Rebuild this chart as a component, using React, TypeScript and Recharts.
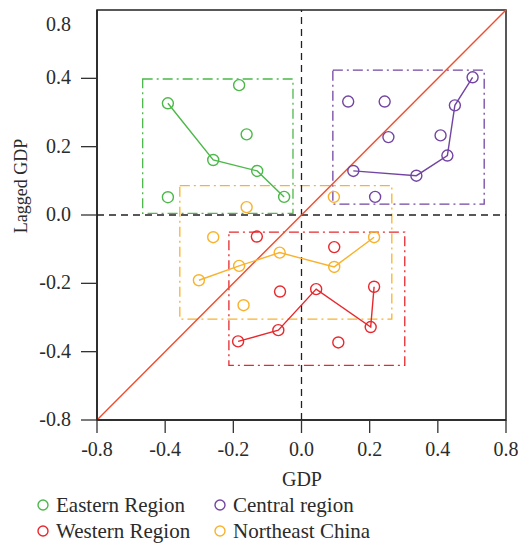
import React from 'react';
import { ScatterChart, Scatter, XAxis, YAxis, ReferenceLine, ReferenceArea, Legend, Label } from 'recharts';

// Axis ticks (internal scale) and their printed labels
const tickValues = [-0.6, -0.4, -0.2, 0, 0.2, 0.4, 0.6];
const tickLabels = ['-0.8', '-0.4', '-0.2', '0.0', '0.2', '0.4', '0.8'];
const xTickLabels = ['-0.8', '-0.4', '-0.2', '0.0', '0.2', '0.4', '0.8'];

// Eastern Region
const eastPath = [
  { x: -0.392, y: 0.327 },
  { x: -0.259, y: 0.161 },
  { x: -0.13, y: 0.129 },
  { x: -0.051, y: 0.053 },
];
const eastOther = [
  { x: -0.183, y: 0.38 },
  { x: -0.161, y: 0.236 },
  { x: -0.392, y: 0.052 },
];
// Central region
const centralPath = [
  { x: 0.152, y: 0.129 },
  { x: 0.337, y: 0.115 },
  { x: 0.428, y: 0.174 },
  { x: 0.45, y: 0.321 },
  { x: 0.502, y: 0.403 },
];
const centralOther = [
  { x: 0.137, y: 0.332 },
  { x: 0.244, y: 0.332 },
  { x: 0.255, y: 0.228 },
  { x: 0.408, y: 0.233 },
  { x: 0.216, y: 0.053 },
];
// Western Region
const westPath = [
  { x: -0.186, y: -0.37 },
  { x: -0.068, y: -0.337 },
  { x: 0.043, y: -0.217 },
  { x: 0.203, y: -0.328 },
  { x: 0.213, y: -0.21 },
];
const westOther = [
  { x: -0.131, y: -0.063 },
  { x: -0.063, y: -0.224 },
  { x: 0.096, y: -0.094 },
  { x: 0.108, y: -0.373 },
];
// Northeast China
const northeastPath = [
  { x: -0.301, y: -0.191 },
  { x: -0.183, y: -0.149 },
  { x: -0.064, y: -0.11 },
  { x: 0.096, y: -0.152 },
  { x: 0.213, y: -0.065 },
];
const northeastOther = [
  { x: -0.259, y: -0.065 },
  { x: -0.17, y: -0.264 },
  { x: -0.161, y: 0.023 },
  { x: 0.095, y: 0.053 },
];

// Region boxes [x1, x2, y1, y2]
const eastBox = [-0.466, -0.025, 0.005, 0.398];
const centralBox = [0.092, 0.536, 0.032, 0.424];
const westBox = [-0.213, 0.303, -0.44, -0.05];
const northeastBox = [-0.357, 0.265, -0.305, 0.086];

const GREEN = '#4cb84a';
const PURPLE = '#7345a3';
const RED = '#e8282d';
const ORANGE = '#f9b22c';
const DIAG = '#f04b2d';
const TEXT = '#2b2b2b';
const FONT = '"Liberation Serif", "Times New Roman", serif';

const legendItems = [
  { name: 'Eastern Region', color: GREEN },
  { name: 'Central region', color: PURPLE },
  { name: 'Western Region', color: RED },
  { name: 'Northeast China', color: ORANGE },
];

const labelFor = (v: number, labels: string[]) => {
  const i = tickValues.findIndex((t) => Math.abs(t - v) < 1e-6);
  return i >= 0 ? labels[i] : String(v);
};

const YTick = (props: any) => {
  const { x, y, payload } = props;
  const isTop = Math.abs(payload.value - 0.6) < 1e-6;
  return (
    <g>
      {!isTop && <line x1={x + 10} x2={x + 26} y1={y} y2={y} stroke="#333" strokeWidth={1.3} />}
      <text x={x} y={y + (isTop ? 15 : 0)} dy={6} textAnchor="end" fill={TEXT} fontSize={20} fontFamily={FONT}>
        {labelFor(payload.value, tickLabels)}
      </text>
    </g>
  );
};

const XTick = (props: any) => {
  const { x, y, payload } = props;
  return (
    <text x={x} y={y} dy={14} textAnchor="middle" fill={TEXT} fontSize={20} fontFamily={FONT}>
      {labelFor(payload.value, xTickLabels)}
    </text>
  );
};

const renderLegend = () => (
  <div style={{ display: 'grid', gridTemplateColumns: '177px 210px', rowGap: 0, fontFamily: FONT, fontSize: 21, color: TEXT }}>
    {legendItems.map((it) => (
      <div key={it.name} style={{ display: 'flex', alignItems: 'center', height: 26 }}>
        <svg width={14} height={14} style={{ marginRight: 6 }}>
          <circle cx={7} cy={7} r={5} fill="none" stroke={it.color} strokeWidth={1.4} />
        </svg>
        <span>{it.name}</span>
      </div>
    ))}
  </div>
);

const box = (b: number[], color: string, key: string) => (
  <ReferenceArea
    key={key}
    x1={b[0]}
    x2={b[1]}
    y1={b[2]}
    y2={b[3]}
    fill="none"
    stroke={color}
    strokeWidth={1.3}
    strokeDasharray="10 4 2 4"
    ifOverflow="visible"
  />
);

const dot = (color: string) => (p: any) => (
  <circle cx={p.cx} cy={p.cy} r={5.5} fill="#fff" fillOpacity={0} stroke={color} strokeWidth={1.4} />
);

export default function App() {
  return (
    <div style={{ position: 'absolute', left: 0, top: 0, width: 518, height: 548, background: '#fff' }}>
      <ScatterChart width={518} height={548} margin={{ top: 10, right: 12, bottom: 0, left: 0 }}>
        <XAxis
          type="number"
          dataKey="x"
          domain={[-0.6, 0.6]}
          ticks={tickValues}
          tick={<XTick />}
          tickSize={13}
          tickMargin={9}
          height={128}
          axisLine={{ stroke: '#222', strokeWidth: 1.5 }}
          tickLine={{ stroke: '#333', strokeWidth: 1.3 }}
          allowDataOverflow
        >
          <Label
            content={() => (
              <text x={302} y={486} textAnchor="middle" fill={TEXT} fontSize={20} fontFamily={FONT}>
                GDP
              </text>
            )}
          />
        </XAxis>
        <YAxis
          type="number"
          dataKey="y"
          domain={[-0.6, 0.6]}
          ticks={tickValues}
          tick={<YTick />}
          tickSize={16}
          tickMargin={10}
          width={97}
          tickLine={false}
          axisLine={{ stroke: '#222', strokeWidth: 1.5 }}
          allowDataOverflow
        >
          <Label
            content={() => (
              <text x={27} y={186} transform="rotate(-90 27 186)" textAnchor="middle" fill={TEXT} fontSize={18} fontFamily={FONT}>
                Lagged GDP
              </text>
            )}
          />
        </YAxis>
        <ReferenceArea x1={-0.6} x2={0.6} y1={-0.6} y2={0.6} fill="none" stroke="#222" strokeWidth={1.5} ifOverflow="visible" />
        <ReferenceLine x={0} stroke="#222" strokeWidth={1.3} strokeDasharray="7 5" />
        <ReferenceLine y={0} stroke="#222" strokeWidth={1.3} strokeDasharray="7 5" />
        <ReferenceLine segment={[{ x: -0.6, y: -0.6 }, { x: 0.6, y: 0.6 }]} stroke={DIAG} strokeWidth={1.4} />
        {box(eastBox, GREEN, 'eb')}
        {box(northeastBox, ORANGE, 'nb')}
        {box(westBox, RED, 'wb')}
        {box(centralBox, PURPLE, 'cb')}
        <Scatter data={eastPath} line={{ stroke: GREEN, strokeWidth: 1.4 }} shape={dot(GREEN)} isAnimationActive={false} legendType="none" />
        <Scatter data={eastOther} shape={dot(GREEN)} isAnimationActive={false} legendType="none" />
        <Scatter data={centralPath} line={{ stroke: PURPLE, strokeWidth: 1.4 }} shape={dot(PURPLE)} isAnimationActive={false} legendType="none" />
        <Scatter data={centralOther} shape={dot(PURPLE)} isAnimationActive={false} legendType="none" />
        <Scatter data={westPath} line={{ stroke: RED, strokeWidth: 1.4 }} shape={dot(RED)} isAnimationActive={false} legendType="none" />
        <Scatter data={westOther} shape={dot(RED)} isAnimationActive={false} legendType="none" />
        <Scatter data={northeastPath} line={{ stroke: ORANGE, strokeWidth: 1.4 }} shape={dot(ORANGE)} isAnimationActive={false} legendType="none" />
        <Scatter data={northeastOther} shape={dot(ORANGE)} isAnimationActive={false} legendType="none" />
        <Legend
          layout="vertical"
          align="center"
          verticalAlign="middle"
          content={renderLegend}
          wrapperStyle={{ left: 36, top: 492, width: 420, height: 56 }}
        />
      </ScatterChart>
    </div>
  );
}
